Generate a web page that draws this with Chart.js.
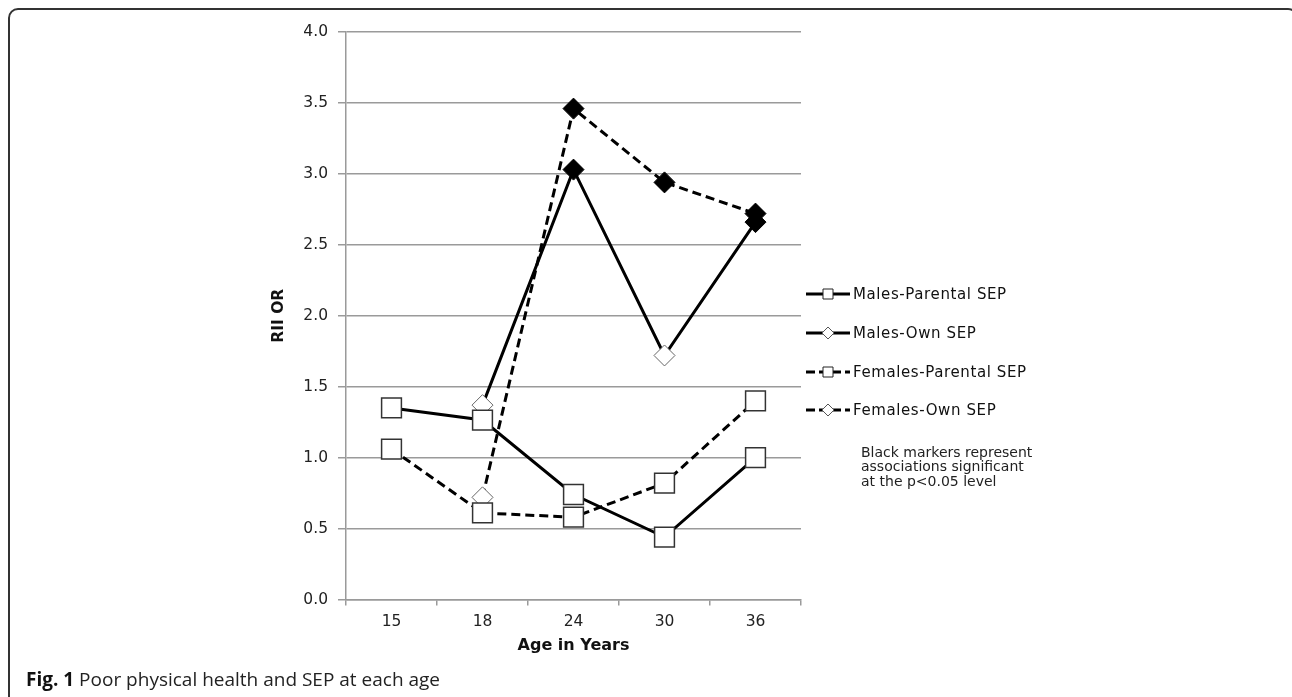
<!DOCTYPE html>
<html>
<head>
<meta charset="utf-8">
<script src="https://cdn.jsdelivr.net/npm/chart.js@4.4.0/dist/chart.umd.min.js"></script>
<style>
  html, body { margin: 0; padding: 0; background: #fff; overflow: hidden; }
  #wrap { position: relative; width: 1292px; height: 697px; overflow: hidden; }
  #frame {
    position: absolute; left: 8px; top: 8px; width: 1290px; height: 800px;
    border: 2px solid #333; border-radius: 10px; box-sizing: border-box;
  }
  #chart { position: absolute; left: 0; top: 0; }
  #caption {
    position: absolute; left: 26px; top: 667px;
    font-family: "Open Sans", "Noto Sans", sans-serif; font-size: 19px; color: #222;
    line-height: 24px; white-space: nowrap;
  }
  #caption b { color: #111; }
</style>
</head>
<body>
<div id="wrap">
  <div id="frame"></div>
  <canvas id="chart" width="1292" height="697"></canvas>
  <div id="caption"><b>Fig. 1</b> Poor physical health and SEP at each age</div>
</div>
<script>
  // ages on the x axis
  var ages = ['15', '18', '24', '30', '36'];

  // RII OR values
  var malesParental   = [1.35, 1.265, 0.74, 0.44, 1.00];
  var malesOwn        = [null, 1.37, 3.03, 1.72, 2.66];
  var femalesParental = [1.06, 0.61, 0.58, 0.82, 1.40];
  var femalesOwn      = [null, 0.72, 3.46, 2.94, 2.72];

  // black markers = significant at p<0.05
  var malesOwnSig   = [false, false, true, false, true];
  var femalesOwnSig = [false, false, true, true, true];

  var yTicks = [0, 0.5, 1, 1.5, 2, 2.5, 3, 3.5, 4];

  var FONT = "'DejaVu Sans', Verdana, sans-serif";
  var GRID = '#9a9a9a';

  function fill(sig) {
    return sig.map(function(s) { return s ? '#000' : '#fff'; });
  }
  function edge(sig) {
    return sig.map(function(s) { return s ? '#000' : '#666'; });
  }

  var squareStyle = {
    pointStyle: 'rect',
    pointRadius: 14,
    pointHoverRadius: 14,
    pointBackgroundColor: '#fff',
    pointBorderColor: '#333',
    pointBorderWidth: 1.5
  };

  function makeSet(label, data, dash, extra) {
    var ds = {
      label: label,
      data: data,
      borderColor: '#000',
      borderWidth: 3,
      borderDash: dash,
      fill: false,
      tension: 0
    };
    return Object.assign(ds, extra);
  }

  var datasets = [
    makeSet('Males-Parental SEP', malesParental, [], squareStyle),
    makeSet('Males-Own SEP', malesOwn, [], {
      pointStyle: 'rectRot', pointRadius: 10.5, pointHoverRadius: 10.5,
      pointBackgroundColor: fill(malesOwnSig), pointBorderColor: edge(malesOwnSig), pointBorderWidth: 1
    }),
    makeSet('Females-Parental SEP', femalesParental, [9, 5], squareStyle),
    makeSet('Females-Own SEP', femalesOwn, [9, 5], {
      pointStyle: 'rectRot', pointRadius: 10.5, pointHoverRadius: 10.5,
      pointBackgroundColor: fill(femalesOwnSig), pointBorderColor: edge(femalesOwnSig), pointBorderWidth: 1
    })
  ];

  // legend + note drawn on the right of the plot
  var sideLegend = {
    id: 'sideLegend',
    afterDraw: function(chart) {
      var ctx = chart.ctx;
      var rows = [294, 333, 372, 410];
      ctx.save();
      chart.data.datasets.forEach(function(ds, i) {
        var y = rows[i];
        ctx.strokeStyle = '#000';
        ctx.lineWidth = 3;
        ctx.setLineDash(ds.borderDash.length ? [9, 4] : []);
        ctx.beginPath();
        ctx.moveTo(806, y);
        ctx.lineTo(850, y);
        ctx.stroke();
        ctx.setLineDash([]);
        ctx.fillStyle = '#fff';
        ctx.strokeStyle = ds.pointStyle === 'rect' ? '#222' : '#555';
        ctx.lineWidth = 1;
        ctx.beginPath();
        if (ds.pointStyle === 'rect') {
          ctx.rect(823, y - 5, 10, 10);
        } else {
          ctx.moveTo(828, y - 6);
          ctx.lineTo(834, y);
          ctx.lineTo(828, y + 6);
          ctx.lineTo(822, y);
          ctx.closePath();
        }
        ctx.fill();
        ctx.stroke();

        ctx.fillStyle = '#111';
        ctx.font = '15px ' + FONT;
        ctx.letterSpacing = '0.6px';
        ctx.textAlign = 'left';
        ctx.textBaseline = 'middle';
        ctx.fillText(ds.label, 853, y + 1);
      });
      ctx.letterSpacing = '0px';
      ctx.font = '14px ' + FONT;
      ctx.fillStyle = '#222';
      ['Black markers represent', 'associations significant', 'at the p<0.05 level'].forEach(function(t, k) {
        ctx.fillText(t, 861, 453 + k * 14.5);
      });
      ctx.restore();
    }
  };

  new Chart(document.getElementById('chart'), {
    type: 'line',
    data: { labels: ages, datasets: datasets },
    options: {
      responsive: false,
      animation: false,
      events: [],
      layout: { padding: { left: 266, right: 491, top: 32, bottom: 37.5 } },
      plugins: { legend: { display: false }, tooltip: { enabled: false } },
      scales: {
        x: {
          type: 'category',
          offset: true,
          afterFit: function(s) { s.height = 60; },
          grid: { offset: true, drawOnChartArea: false, drawTicks: true, tickLength: 6, color: GRID, lineWidth: 1.5 },
          border: { display: true, color: GRID, width: 1.5 },
          ticks: { color: '#222', padding: 7, font: { family: FONT, size: 15.5 } },
          title: {
            display: true, text: 'Age in Years', color: '#111',
            padding: { top: 4, bottom: 4 },
            font: { family: FONT, size: 16, weight: 'bold' }
          }
        },
        y: {
          min: 0,
          max: 4,
          afterFit: function(s) { s.width = 80; },
          afterBuildTicks: function(s) { s.ticks = yTicks.map(function(v) { return { value: v }; }); },
          grid: { color: GRID, lineWidth: 1.5, tickLength: 8 },
          border: { display: true, color: GRID, width: 1.5 },
          ticks: {
            color: '#222', padding: 10, font: { family: FONT, size: 15.5 },
            callback: function(v) { return Number(v).toFixed(1); }
          },
          title: {
            display: true, text: 'RII OR', color: '#111',
            padding: { top: 4, bottom: 4 },
            font: { family: FONT, size: 15.5, weight: 'bold' }
          }
        }
      }
    },
    plugins: [sideLegend]
  });
</script>
</body>
</html>
